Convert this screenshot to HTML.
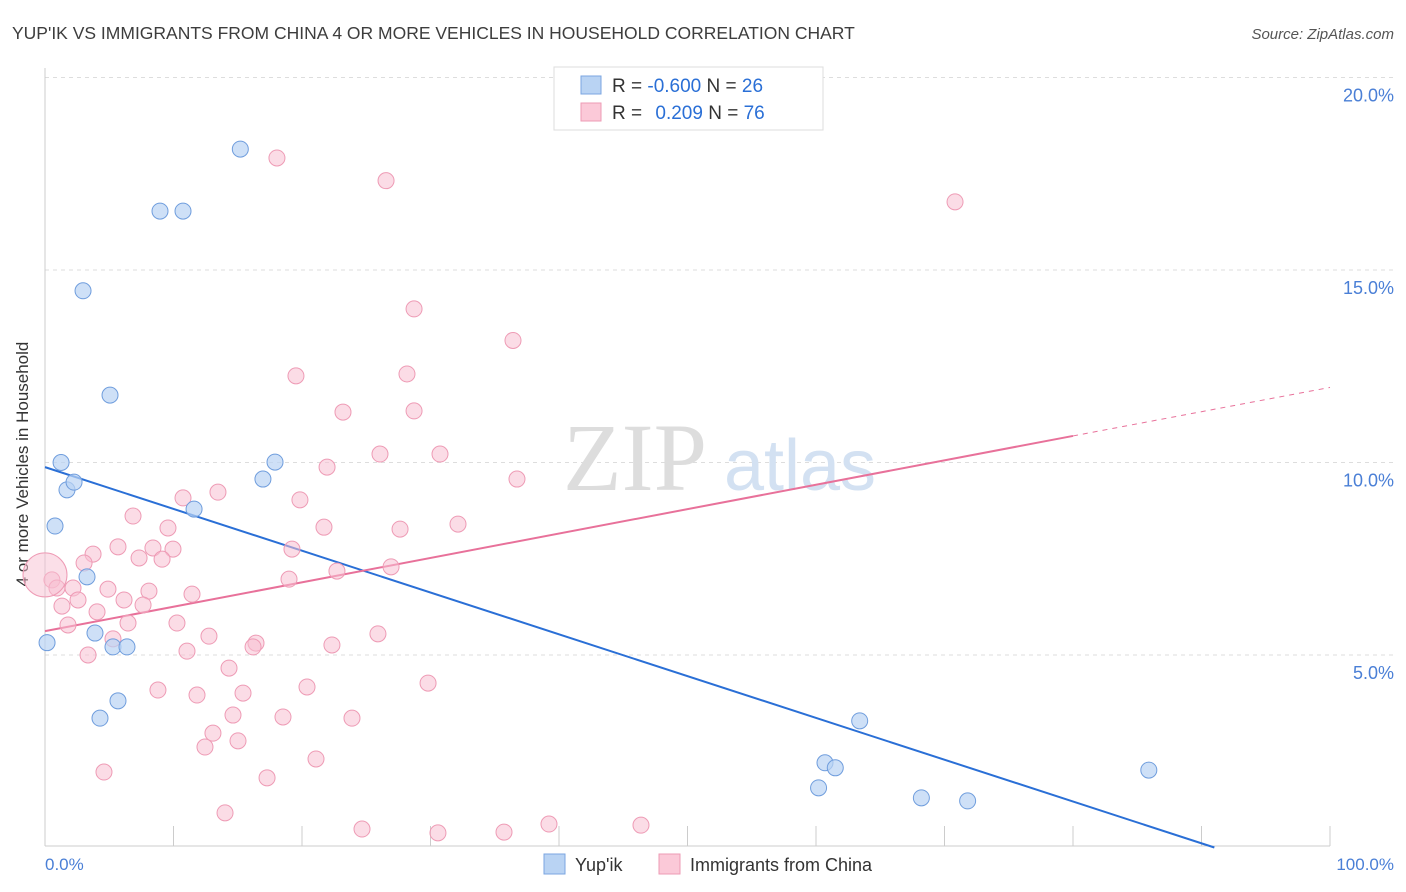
<!DOCTYPE html>
<html><head><meta charset="utf-8"><style>
body{margin:0;background:#fff;font-family:"Liberation Sans",sans-serif}
svg{display:block}
</style></head><body>
<svg width="1406" height="892">
<text x="12" y="39" font-size="17.5" fill="#3d3d3d">YUP'IK VS IMMIGRANTS FROM CHINA 4 OR MORE VEHICLES IN HOUSEHOLD CORRELATION CHART</text>
<text x="1394" y="39" font-size="15" fill="#555" font-style="italic" text-anchor="end">Source: ZipAtlas.com</text>
<g id="grid"></g>
<g><text x="635" y="490" font-size="96" fill="#ddd" font-family="Liberation Serif" text-anchor="middle">ZIP</text><text x="800" y="490" font-size="72" fill="#d3e1f2" text-anchor="middle">atlas</text></g>
<line x1="45" y1="68" x2="45" y2="846" stroke="#ccc"/>
<line x1="45" y1="846" x2="1330" y2="846" stroke="#ccc"/>
<text x="20" y="456" font-size="17" fill="#333" transform="rotate(-90 28 456)" text-anchor="middle">4 or more Vehicles in Household</text>
<text x="45" y="870" font-size="17" fill="#4a7fd6">0.0%</text>
<text x="1394" y="870" font-size="17" fill="#4a7fd6" text-anchor="end">100.0%</text>
<g id="lines"></g>
<g id="pts"></g>
<g>
<rect x="554" y="67" width="269" height="63" fill="#fff" stroke="#ddd"/>
<rect x="581" y="76" width="20" height="18" fill="#b9d3f3" stroke="#7ba6e0"/>
<rect x="581" y="103" width="20" height="18" fill="#fbc9d8" stroke="#ee9bb5"/>
<text x="612" y="92" font-size="19" fill="#333">R = <tspan fill="#2a6fd6">-0.600</tspan>   N = <tspan fill="#2a6fd6">26</tspan></text>
<text x="612" y="119" font-size="19" fill="#333">R =  <tspan fill="#2a6fd6" dx="8">0.209</tspan>   N = <tspan fill="#2a6fd6">76</tspan></text>
</g>
<g>
<rect x="544" y="854" width="21" height="20" fill="#b9d3f3" stroke="#7ba6e0"/>
<text x="575" y="871" font-size="18" fill="#333">Yup'ik</text>
<rect x="659" y="854" width="21" height="20" fill="#fbc9d8" stroke="#ee9bb5"/>
<text x="690" y="871" font-size="18" fill="#333">Immigrants from China</text>
</g>
</svg>
<script>
const yTicks=[5,10,15,20];
const blueX=[15.2,8.95,10.74,2.96,5.06,1.25,1.71,2.26,0.78,11.6,16.96,17.9,3.27,0.16,3.89,5.29,6.38,5.68,4.28,63.4,60.7,61.5,60.2,68.2,71.8,85.9];
const blueY=[18.14,16.53,16.53,14.46,11.75,10.0,9.29,9.49,8.35,8.79,9.57,10.01,7.03,5.32,5.57,5.21,5.21,3.81,3.36,3.29,2.2,2.07,1.55,1.29,1.21,2.01];
const pinkX=[18.05,26.54,70.82,28.72,36.42,19.53,28.17,23.19,28.72,26.07,30.74,21.95,36.73,10.74,13.46,19.84,6.85,9.57,21.71,27.63,32.14,5.68,3.74,8.40,9.96,7.32,9.11,19.22,3.04,22.72,26.93,18.99,0.54,0.93,2.18,4.90,8.09,11.44,6.15,2.57,7.63,1.32,4.05,6.46,1.79,10.27,12.76,25.91,5.29,16.42,16.19,22.33,11.05,3.35,14.32,29.81,20.39,8.79,15.41,11.83,14.63,18.52,23.89,13.07,15.02,12.45,21.09,4.59,17.28,14.01,24.67,30.58,35.72,39.22,46.38,0];
const pinkY=[17.91,17.32,16.77,13.99,13.17,12.25,12.30,11.31,11.34,10.22,10.22,9.88,9.57,9.08,9.23,9.03,8.61,8.30,8.32,8.27,8.40,7.81,7.62,7.78,7.75,7.52,7.49,7.75,7.39,7.18,7.29,6.97,6.95,6.74,6.74,6.71,6.66,6.58,6.43,6.43,6.30,6.27,6.12,5.83,5.78,5.83,5.49,5.55,5.42,5.31,5.21,5.26,5.10,5.00,4.66,4.27,4.17,4.09,4.01,3.96,3.44,3.39,3.36,2.97,2.77,2.61,2.30,1.96,1.81,0.90,0.48,0.38,0.40,0.61,0.58,7.08];
const blueTrend=[9.88,0.0,91];
const pinkTrend=[5.62,10.69,80,11.95];
const X=v=>45+v*12.85, Y=v=>847.5-v*38.5;
const NS='http://www.w3.org/2000/svg';
function mk(t,a,p){const e=document.createElementNS(NS,t);for(const k in a)e.setAttribute(k,a[k]);p.appendChild(e);return e;}
const g=document.getElementById('grid');
yTicks.forEach(t=>{
 const l=mk('line',{x1:45,x2:1394,y1:Y(t),y2:Y(t),stroke:'#ddd','stroke-dasharray':'4 4'},g);
 
 
 const tx=mk('text',{x:1394,y:Y(t)+24,'font-size':18,fill:'#4a7fd6','text-anchor':'end'},g);
 tx.textContent=t.toFixed(1)+'%';
 
 
});
for(let i=1;i<=10;i++){
 const l=mk('line',{x1:X(i*10),x2:X(i*10),y1:826,y2:846,stroke:'#ccc'},g);
 
 
}
const pg=document.getElementById('pts');
for(let i=0;i<pinkX.length;i++){
 const big=i===pinkX.length-1;
 const c=mk('circle',{cx:X(pinkX[i]),cy:Y(pinkY[i]),r:big?22:8,fill:'#f8c0d2',"fill-opacity":big?0.5:0.55,stroke:'#ee9bb5','stroke-width':1},pg);
 
 
}
for(let i=0;i<blueX.length;i++){
 const c=mk('circle',{cx:X(blueX[i]),cy:Y(blueY[i]),r:8,fill:'#b9d3f3',"fill-opacity":0.7,stroke:'#6f9ddd','stroke-width':1},pg);
 
 
}
const lg=document.getElementById('lines');
const b=mk('line',{x1:X(0),y1:Y(blueTrend[0]),x2:X(blueTrend[2]),y2:Y(blueTrend[1]),stroke:'#2a6fd6','stroke-width':2},lg);


const p=mk('line',{x1:X(0),y1:Y(pinkTrend[0]),x2:X(pinkTrend[2]),y2:Y(pinkTrend[1]),stroke:'#e8719a','stroke-width':2},lg);


const pd=mk('line',{x1:X(pinkTrend[2]),y1:Y(pinkTrend[1]),x2:X(100),y2:Y(pinkTrend[3]),stroke:'#e8719a','stroke-width':1,'stroke-dasharray':'5 5'},lg);


</script>
</body></html>
